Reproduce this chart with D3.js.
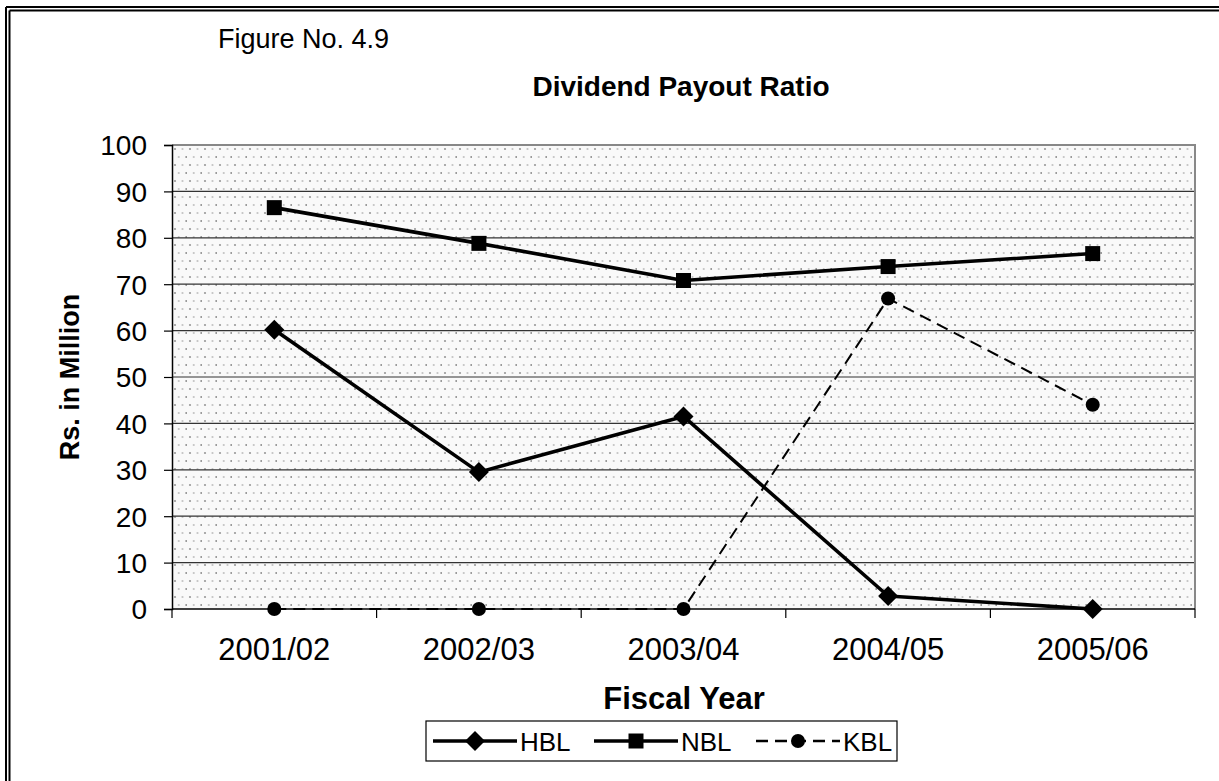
<!DOCTYPE html>
<html>
<head>
<meta charset="utf-8">
<script src="https://cdn.jsdelivr.net/npm/d3@7"></script>
<style>
  html, body { margin: 0; padding: 0; background: #fff; }
  svg { display: block; font-family: "Liberation Sans", Arial, sans-serif; }
</style>
</head>
<body>
<svg id="chart" width="1219" height="781"></svg>
<script>
// Fiscal years and dividend payout ratios per bank
const years = ["2001/02", "2002/03", "2003/04", "2004/05", "2005/06"];
const hbl = [60.2, 29.5, 41.5, 2.8, 0];
const nbl = [86.5, 78.8, 70.8, 73.8, 76.6];
const kbl = [0, 0, 0, 66.9, 44.0];
const yTicks = [0, 10, 20, 30, 40, 50, 60, 70, 80, 90, 100];

const svg = d3.select("#chart");
const W = 1219, H = 781;
const m = { left: 172, right: 1195, top: 145, bottom: 609 };

// Double page frame (top and left edges)
[[6, 7], [9.5, 10.5]].forEach(([x, y]) => {
  svg.append("line").attr("x1", x).attr("y1", y).attr("x2", W).attr("y2", y)
    .attr("stroke", "#000").attr("stroke-width", 2);
  svg.append("line").attr("x1", x).attr("y1", y).attr("x2", x).attr("y2", H)
    .attr("stroke", "#000").attr("stroke-width", 2);
});

// Dotted fill for the plot area
const defs = svg.append("defs");
const pat = defs.append("pattern").attr("id", "dots")
  .attr("patternUnits", "userSpaceOnUse").attr("width", 15).attr("height", 16)
  .attr("x", m.left).attr("y", m.top);
pat.append("rect").attr("width", 15).attr("height", 16).attr("fill", "#f9f9f9");
[[3, 4, "#999"], [10.5, 4, "#c4c4c4"], [6.75, 12, "#c4c4c4"], [14.25, 12, "#999"]]
  .forEach(([cx, cy, c]) => pat.append("circle").attr("cx", cx).attr("cy", cy).attr("r", 1.1).attr("fill", c));

const x = d3.scaleBand().domain(years).range([m.left, m.right]);
const y = d3.scaleLinear().domain([0, 100]).range([m.bottom, m.top]);
const cx = d => x(d) + x.bandwidth() / 2;

svg.append("rect").attr("x", m.left).attr("y", m.top)
  .attr("width", m.right - m.left).attr("height", m.bottom - m.top)
  .attr("fill", "url(#dots)");

// Horizontal gridlines
svg.append("g").selectAll("line").data(yTicks.filter(t => t > 0 && t < 100)).join("line")
  .attr("x1", m.left).attr("x2", m.right)
  .attr("y1", d => y(d)).attr("y2", d => y(d))
  .attr("stroke", "#333").attr("stroke-width", 1.2);

// Plot frame: grey top/right edges
svg.append("path")
  .attr("d", `M${m.left},${m.top}H${m.right}V${m.bottom}`)
  .attr("fill", "none").attr("stroke", "#888").attr("stroke-width", 2);

// Y axis
const yAxis = svg.append("g").attr("transform", `translate(${m.left},0)`)
  .call(d3.axisLeft(y).tickValues(yTicks).tickSize(8).tickPadding(17));
yAxis.select(".domain").attr("stroke", "#000").attr("stroke-width", 1.5);
yAxis.selectAll(".tick line").attr("stroke", "#000").attr("stroke-width", 1.2);
yAxis.attr("font-size", 28).attr("font-family", "Liberation Sans, Arial, sans-serif");
yAxis.selectAll("text").attr("fill", "#000").attr("dy", "0.35em");

// X axis: ticks at category boundaries
const xAxis = svg.append("g").attr("transform", `translate(0,${m.bottom})`);
xAxis.append("line").attr("x1", m.left).attr("x2", m.right)
  .attr("stroke", "#000").attr("stroke-width", 1.5);
const bounds = years.map(d => x(d)).concat([m.right]);
xAxis.selectAll("line.tk").data(bounds).join("line").attr("class", "tk")
  .attr("x1", d => d).attr("x2", d => d).attr("y1", 0).attr("y2", 9)
  .attr("stroke", "#000").attr("stroke-width", 1.2);
xAxis.selectAll("text").data(years).join("text")
  .attr("x", d => cx(d)).attr("y", 51).attr("text-anchor", "middle")
  .attr("font-size", 31).text(d => d);

// Series lines
const line = d3.line().x((d, i) => cx(years[i])).y(d => y(d));
svg.append("path").datum(hbl).attr("d", line).attr("fill", "none")
  .attr("stroke", "#000").attr("stroke-width", 3.6).attr("stroke-linejoin", "round");
svg.append("path").datum(nbl).attr("d", line).attr("fill", "none")
  .attr("stroke", "#000").attr("stroke-width", 3.6).attr("stroke-linejoin", "round");
svg.append("path").datum(kbl).attr("d", line).attr("fill", "none")
  .attr("stroke", "#000").attr("stroke-width", 2).attr("stroke-dasharray", "12,7");

// Markers
const diamond = d3.symbol().type(d3.symbolDiamond2).size(255);
const square = d3.symbol().type(d3.symbolSquare).size(225);
const circle = d3.symbol().type(d3.symbolCircle).size(155);
svg.append("g").selectAll("path").data(hbl).join("path")
  .attr("d", diamond).attr("transform", (d, i) => `translate(${cx(years[i])},${y(d)})`);
svg.append("g").selectAll("path").data(nbl).join("path")
  .attr("d", square).attr("transform", (d, i) => `translate(${cx(years[i])},${y(d)})`);
svg.append("g").selectAll("path").data(kbl).join("path")
  .attr("d", circle).attr("transform", (d, i) => `translate(${cx(years[i])},${y(d)})`);

// Titles
svg.append("text").attr("x", 218).attr("y", 48).attr("font-size", 27).text("Figure No. 4.9");
svg.append("text").attr("x", 681).attr("y", 96).attr("text-anchor", "middle")
  .attr("font-size", 28).attr("font-weight", "bold").text("Dividend Payout Ratio");
svg.append("text").attr("x", 684).attr("y", 709).attr("text-anchor", "middle")
  .attr("font-size", 31).attr("font-weight", "bold").text("Fiscal Year");
svg.append("text").attr("transform", "translate(79,377) rotate(-90)").attr("text-anchor", "middle")
  .attr("font-size", 27).attr("font-weight", "bold").text("Rs. in Million");

// Legend
const series = [
  { name: "HBL", sym: diamond, dash: null, w: 3.6 },
  { name: "NBL", sym: square, dash: null, w: 3.6 },
  { name: "KBL", sym: circle, dash: "12,7", w: 2.4 }
];
const box = { x: 426, y: 721, w: 471, h: 40 };
const lg = svg.append("g");
lg.append("rect").attr("x", box.x).attr("y", box.y).attr("width", box.w).attr("height", box.h)
  .attr("fill", "#fff").attr("stroke", "#000").attr("stroke-width", 1.2);
const lx = [433, 594, 756];
series.forEach((s, i) => {
  const g = lg.append("g").attr("transform", `translate(${lx[i]},741)`);
  g.append("line").attr("x1", 0).attr("x2", 84).attr("stroke", "#000")
    .attr("stroke-width", s.w).attr("stroke-dasharray", s.dash);
  g.append("path").attr("d", s.sym).attr("transform", "translate(42,0)");
  g.append("text").attr("x", 87).attr("y", 10).attr("font-size", 26).text(s.name);
});
</script>
</body>
</html>
